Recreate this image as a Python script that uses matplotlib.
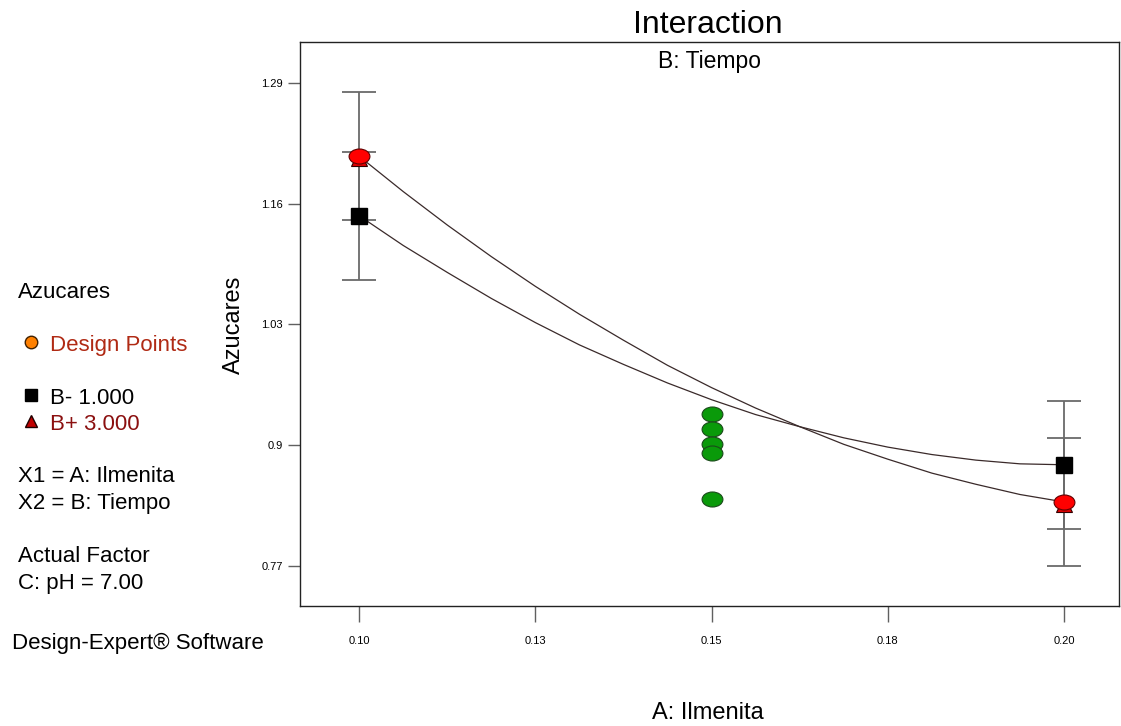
import matplotlib as mpl
mpl.use("Agg")
import matplotlib.pyplot as plt
import matplotlib.path as mpath
from matplotlib.transforms import Affine2D

plt.rcParams['font.family'] = ['Liberation Sans', 'DejaVu Sans']

# values
a_grid = [0.1, 0.10625, 0.1125, 0.11875, 0.125, 0.13125, 0.1375, 0.14375, 0.15,
          0.15625, 0.1625, 0.16875, 0.175, 0.18125, 0.1875, 0.19375, 0.2]
b_minus_curve = [1.147, 1.115, 1.086, 1.058, 1.032, 1.008, 0.987, 0.967, 0.949,
                 0.933, 0.920, 0.908, 0.898, 0.890, 0.884, 0.880, 0.879]
b_plus_curve = [1.211, 1.173, 1.137, 1.103, 1.071, 1.041, 1.013, 0.986, 0.962,
                0.940, 0.920, 0.901, 0.885, 0.870, 0.858, 0.847, 0.839]

end_levels = [0.10, 0.20]
b_minus_ends = [1.147, 0.879]
b_plus_ends = [1.211, 0.839]
lsd_half = 0.069

center_x = [0.15, 0.15, 0.15, 0.15, 0.15]
center_y = [0.934, 0.917, 0.901, 0.892, 0.842]

xticks = [0.10, 0.125, 0.15, 0.175, 0.20]
xtick_labels = ["0.10", "0.13", "0.15", "0.18", "0.20"]
yticks = [0.77, 0.90, 1.03, 1.16, 1.29]
ytick_labels = ["0.77", "0.9", "1.03", "1.16", "1.29"]

W, H = 1121, 726
fig = plt.figure(figsize=(W / 100, H / 100), dpi=100)
ax = fig.add_axes([300 / W, 1 - 606 / H, 819 / W, 564 / H])

# ellipse marker for design points
ell = mpath.Path.unit_circle().transformed(Affine2D().scale(1.0, 0.72))

# model curves
ax.plot(a_grid, b_minus_curve, color="#3a2a2a", lw=0.9, zorder=2)
ax.plot(a_grid, b_plus_curve, color="#3a2a2a", lw=0.9, zorder=2)

# LSD bars
for ys in (b_minus_ends, b_plus_ends):
    ax.errorbar(end_levels, ys, yerr=lsd_half, fmt="none", ecolor="#6a6a6a",
                elinewidth=1.3, capsize=12.5, capthick=1.3, zorder=3)

# design points at the center
ax.plot(center_x, center_y, linestyle="none", marker=ell, markersize=15,
        markerfacecolor="#0a9a0a", markeredgecolor="#1a4a1a", markeredgewidth=0.8, zorder=4)

# B+ triangles and red design points
ax.plot(end_levels, [y - 0.002 for y in b_plus_ends], linestyle="none", marker="^", markersize=11,
        markerfacecolor="#e00000", markeredgecolor="#300000", markeredgewidth=0.8, zorder=4)
ax.plot(end_levels, b_plus_ends, linestyle="none", marker=ell, markersize=15,
        markerfacecolor="#ff0000", markeredgecolor="#600000", markeredgewidth=0.8, zorder=5)

# B- squares
ax.plot(end_levels, b_minus_ends, linestyle="none", marker="s", markersize=11,
        markerfacecolor="black", markeredgecolor="black", zorder=5)

ax.set_xlim(0.0916, 0.2078)
ax.set_ylim(0.727, 1.334)
ax.set_xticks(xticks)
ax.set_xticklabels(xtick_labels, fontsize=8)
ax.set_yticks(yticks)
ax.set_yticklabels(ytick_labels, fontsize=8)
ax.tick_params(axis="y", direction="out", length=8.6, width=1, color="#606060", pad=4)
ax.tick_params(axis="x", direction="out", length=11.5, width=1, color="#606060", pad=10)
for s in ax.spines.values():
    s.set_linewidth(1.0)
    s.set_color("#222222")

ax.text(0.5, 0.965, "B: Tiempo", transform=ax.transAxes, ha="center", va="center", fontsize=16.5)


def ft(px, py, s, **kw):
    fig.text(px / W, 1 - (py + 3) / H, s, va="center", **kw)


ft(708, 22, "Interaction", ha="center", fontsize=23)
ft(234, 322, "Azucares", ha="center", rotation=90, fontsize=17)
ft(708, 710, "A: Ilmenita", ha="center", fontsize=17)

ft(18, 289, "Azucares", fontsize=16)
ft(50, 342, "Design Points", fontsize=16, color="#b02a14")
ft(50, 395, "B- 1.000", fontsize=16)
ft(50, 422, "B+ 3.000", fontsize=16, color="#8b1010")
ft(18, 474, "X1 = A: Ilmenita", fontsize=16)
ft(18, 501, "X2 = B: Tiempo", fontsize=16)
ft(18, 553, "Actual Factor", fontsize=16)
ft(18, 580, "C: pH = 7.00", fontsize=16)
ft(12, 640, "Design-Expert\u00ae Software", fontsize=16)

# legend symbols
fig.lines.append(plt.Line2D([31 / W], [1 - 342 / H], transform=fig.transFigure, marker="o",
                            markersize=9, markerfacecolor="#ff8000", markeredgecolor="#402000",
                            linestyle="none"))
fig.lines.append(plt.Line2D([31 / W], [1 - 395 / H], transform=fig.transFigure, marker="s",
                            markersize=8, markerfacecolor="black", markeredgecolor="black",
                            linestyle="none"))
fig.lines.append(plt.Line2D([31 / W], [1 - 421 / H], transform=fig.transFigure, marker="^",
                            markersize=9, markerfacecolor="#c00000", markeredgecolor="#200000",
                            linestyle="none"))

fig.savefig("out.png", dpi=100)
